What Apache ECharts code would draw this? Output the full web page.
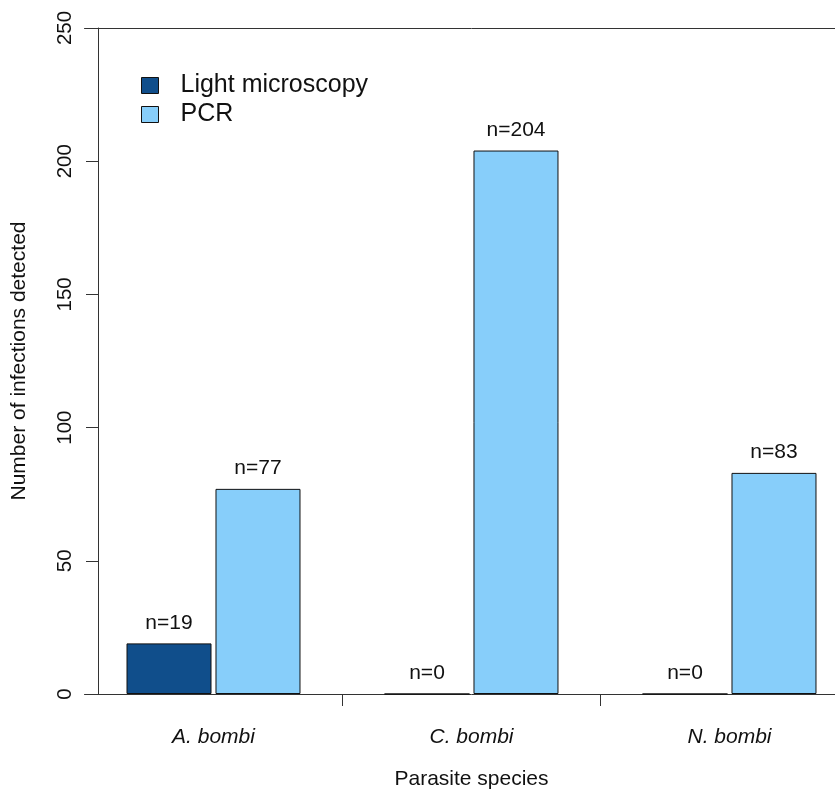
<!DOCTYPE html>
<html>
<head>
<meta charset="utf-8">
<script src="https://cdn.jsdelivr.net/npm/echarts@6/dist/echarts.min.js"></script>
<style>
html,body{margin:0;padding:0;background:#fff;overflow:hidden;width:835px;height:790px;}
#chart{width:900px;height:790px;}
</style>
</head>
<body>
<div id="chart"></div>
<script>
// Data
var categories = ['A. bombi', 'C. bombi', 'N. bombi'];
var lightMicroscopy = [19, 0, 0];
var pcr = [77, 204, 83];
var yTicks = [0, 50, 100, 150, 200, 250];
var seriesNames = ['Light microscopy', 'PCR'];

var FONT = 'Liberation Sans, Arial, Helvetica, sans-serif';
var AXIS_COLOR = '#333';

var chart = echarts.init(document.getElementById('chart'), null, {renderer: 'canvas'});

var labelStyle = {
  show: true,
  position: 'top',
  distance: 10,
  formatter: 'n={c}',
  fontFamily: FONT,
  fontSize: 21,
  color: '#111'
};

var option = {
  animation: false,
  backgroundColor: '#ffffff',
  legend: {
    orient: 'vertical',
    left: 141,
    top: 73,
    padding: 0,
    itemWidth: 17,
    itemHeight: 16,
    itemGap: 4,
    icon: 'rect',
    data: seriesNames,
    itemStyle: {borderColor: '#111', borderWidth: 1},
    textStyle: {fontFamily: FONT, fontSize: 25, color: '#111', padding: [0, 0, 0, 17]}
  },
  grid: {
    left: 84.5,
    top: 28,
    width: 774,
    height: 666,
    containLabel: false,
    outerBoundsMode: 'none'
  },
  xAxis: [{
    type: 'category',
    data: categories,
    position: 'bottom',
    name: 'Parasite species',
    nameLocation: 'middle',
    nameGap: 75,
    nameTextStyle: {fontFamily: FONT, fontSize: 21, color: '#111'},
    axisLine: {show: true, lineStyle: {color: AXIS_COLOR, width: 1}},
    axisTick: {
      show: true,
      length: 12,
      lineStyle: {color: AXIS_COLOR, width: 1},
      interval: function (index) { return index !== 0; }
    },
    axisLabel: {
      fontFamily: FONT,
      fontSize: 21,
      fontStyle: 'italic',
      color: '#111',
      margin: 33
    }
  }, {
    type: 'category',
    data: categories,
    position: 'top',
    axisLine: {show: true, lineStyle: {color: AXIS_COLOR, width: 1}},
    axisTick: {show: false},
    axisLabel: {show: false}
  }],
  yAxis: {
    type: 'value',
    min: 0,
    max: 250,
    interval: 50,
    offset: -13.5,
    name: 'Number of infections detected',
    nameLocation: 'middle',
    nameGap: 68,
    nameRotate: 90,
    nameTextStyle: {fontFamily: FONT, fontSize: 21, color: '#111'},
    axisLine: {show: true, lineStyle: {color: AXIS_COLOR, width: 1}},
    axisTick: {show: true, length: 12, lineStyle: {color: AXIS_COLOR, width: 1}},
    splitLine: {show: false},
    axisLabel: {
      rotate: 90,
      margin: 22,
      fontFamily: FONT,
      fontSize: 20.5,
      color: '#111',
      formatter: function (v) { return yTicks.indexOf(v) >= 0 ? String(v) : ''; }
    }
  },
  series: [{
    name: seriesNames[0],
    type: 'bar',
    data: lightMicroscopy,
    barWidth: 85,
    barGap: '4.7%',
    itemStyle: {color: '#104E8B', borderColor: '#111', borderWidth: 1},
    label: labelStyle
  }, {
    name: seriesNames[1],
    type: 'bar',
    data: pcr,
    barWidth: 85,
    barGap: '4.7%',
    itemStyle: {color: '#87CEFA', borderColor: '#111', borderWidth: 1},
    label: labelStyle
  }]
};

chart.setOption(option);
</script>
</body>
</html>
